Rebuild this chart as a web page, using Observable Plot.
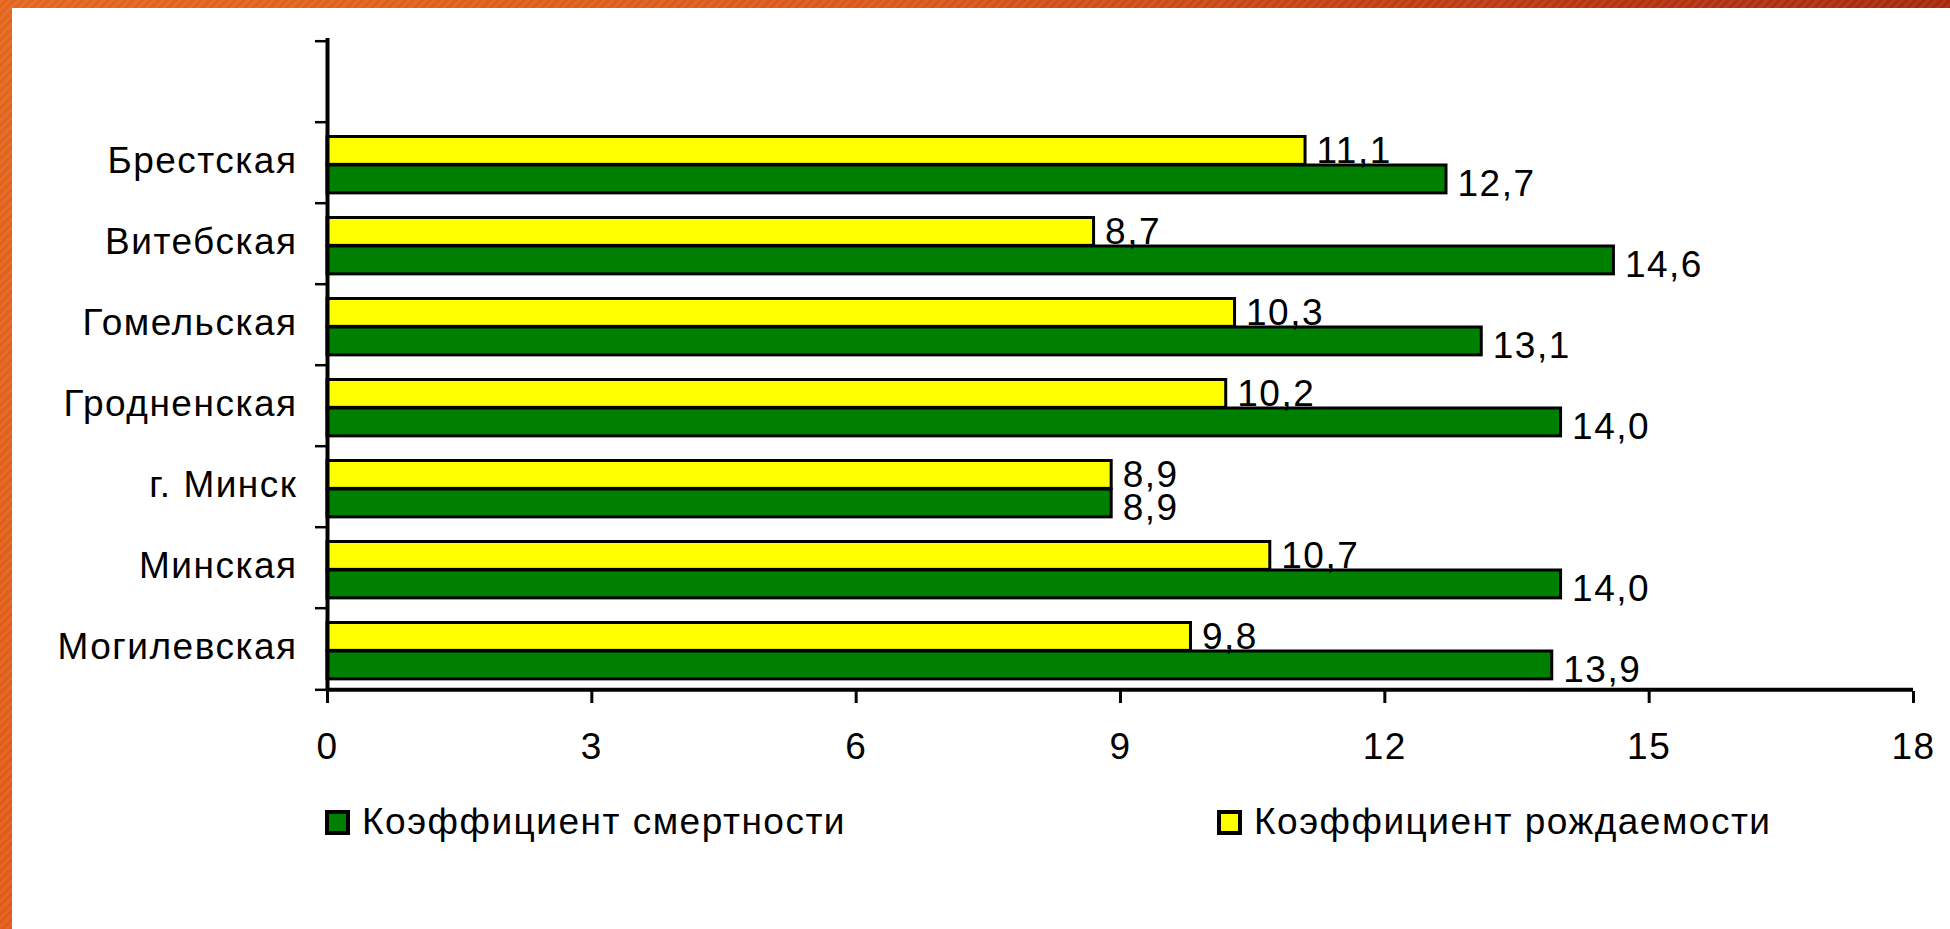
<!DOCTYPE html>
<html>
<head>
<meta charset="utf-8">
<script src="https://cdn.jsdelivr.net/npm/d3@7"></script>
<script src="https://cdn.jsdelivr.net/npm/@observablehq/plot@0.6"></script>
<style>
  html, body { margin: 0; padding: 0; background: #fff; width: 1950px; height: 929px; overflow: hidden; }
  body { position: relative; font-family: "Liberation Sans", Arial, sans-serif; }
  .band-top { position: absolute; left: 0; top: 0; width: 1950px; height: 8px;
    background: repeating-linear-gradient(135deg, rgba(255,255,255,0.07) 0 3px, rgba(0,0,0,0) 3px 6px),
                linear-gradient(to right, #e3651c, #d9581a 45%, #b83510 80%, #a5290a); }
  .band-left { position: absolute; left: 0; top: 0; width: 12px; height: 929px;
    background: repeating-linear-gradient(135deg, rgba(255,255,255,0.07) 0 3px, rgba(0,0,0,0) 3px 6px),
                linear-gradient(to bottom, #e3651c, #e05a18); }
  #chart svg { display: block; }
  .legend { display: flex; align-items: center; height: 50px; margin-top: 17px;
    font-size: 37px; letter-spacing: 1.5px; color: #000; }
  .legend .item { display: flex; align-items: center; }
  .legend .sw { width: 17px; height: 17px; border: 4px solid #000; margin-right: 12px; }
</style>
</head>
<body>
<div id="chart"></div>
<div class="band-top"></div>
<div class="band-left"></div>
<script>
// ---- data ----
const regions = ["Брестская", "Витебская", "Гомельская", "Гродненская", "г. Минск", "Минская", "Могилевская"];
const birthRate = [11.1, 8.7, 10.3, 10.2, 8.9, 10.7, 9.8];   // Коэффициент рождаемости
const deathRate = [12.7, 14.6, 13.1, 14.0, 8.9, 14.0, 13.9]; // Коэффициент смертности
const seriesNames = ["Коэффициент смертности", "Коэффициент рождаемости"];
const seriesColors = ["#008000", "#ffff00"];
const xTicks = [0, 3, 6, 9, 12, 15, 18];
const yDomain = ["", ...regions]; // empty first category as in the original

// ---- tables ----
const birthRows = regions.map((r, i) => ({region: r, value: birthRate[i]}));
const deathRows = regions.map((r, i) => ({region: r, value: deathRate[i]}));
const fmt = v => d3.format(".1f")(v).replace(".", ",");

// ---- layout ----
const W = 1950, H = 780;
const mL = 327, mR = 37, mT = 38, mB = H - 691;
const bw = (H - mT - mB) / yDomain.length;
const groupTop = 14.5, barH = 28.5;
const fs = 37;

const chart = Plot.plot({
  width: W, height: H,
  marginLeft: mL, marginRight: mR, marginTop: mT, marginBottom: mB,
  style: {fontFamily: "'Liberation Sans', Arial, sans-serif", fontSize: fs + "px", letterSpacing: "1.5px", color: "#000", background: "transparent"},
  x: {domain: [0, 18], axis: null, label: null},
  y: {domain: yDomain, padding: 0, axis: null, label: null},
  marks: [
    Plot.barX(birthRows, {x: "value", y: "region", fill: seriesColors[1], stroke: "#000", strokeWidth: 3,
      insetTop: groupTop, insetBottom: bw - groupTop - barH}),
    Plot.barX(deathRows, {x: "value", y: "region", fill: seriesColors[0], stroke: "#000", strokeWidth: 3,
      insetTop: groupTop + barH, insetBottom: bw - groupTop - 2 * barH}),
    Plot.text(birthRows, {x: "value", y: "region", text: d => fmt(d.value), textAnchor: "start", dx: 11, dy: -12, fontSize: fs, fill: "#000"}),
    Plot.text(deathRows, {x: "value", y: "region", text: d => fmt(d.value), textAnchor: "start", dx: 11, dy: 21, fontSize: fs, fill: "#000"}),
    // axis lines
    Plot.ruleX([0], {stroke: "#000", strokeWidth: 4}),
    Plot.ruleY([regions[regions.length - 1]], {stroke: "#000", strokeWidth: 4, dy: bw / 2}),
    // category labels
    Plot.axisY({tickSize: 0, tickPadding: 30, fontSize: fs, dy: -1.5, label: null}),
    // boundary ticks between categories
    Plot.axisY(yDomain, {tickSize: 12, tickFormat: () => "", dy: -bw / 2, strokeWidth: 2.5, label: null}),
    Plot.axisY([regions[regions.length - 1]], {tickSize: 12, tickFormat: () => "", dy: bw / 2, strokeWidth: 2.5, label: null}),
    // x axis
    Plot.axisX(xTicks, {tickSize: 12, tickPadding: 29, strokeWidth: 3, fontSize: fs, label: null})
  ]
});
document.getElementById("chart").appendChild(chart);

// ---- legend ----
const legend = document.createElement("div");
legend.className = "legend";
const itemStarts = [325, 1217];
seriesNames.forEach((name, i) => {
  const item = document.createElement("div");
  item.className = "item";
  item.style.marginLeft = (i === 0 ? itemStarts[0] : 0) + "px";
  if (i === 0) item.style.width = (itemStarts[1] - itemStarts[0]) + "px";
  const sw = document.createElement("div");
  sw.className = "sw";
  sw.style.background = seriesColors[i];
  const t = document.createElement("span");
  t.textContent = name;
  item.appendChild(sw); item.appendChild(t);
  legend.appendChild(item);
});
document.body.insertBefore(legend, document.querySelector(".band-top"));
</script>
</body>
</html>
